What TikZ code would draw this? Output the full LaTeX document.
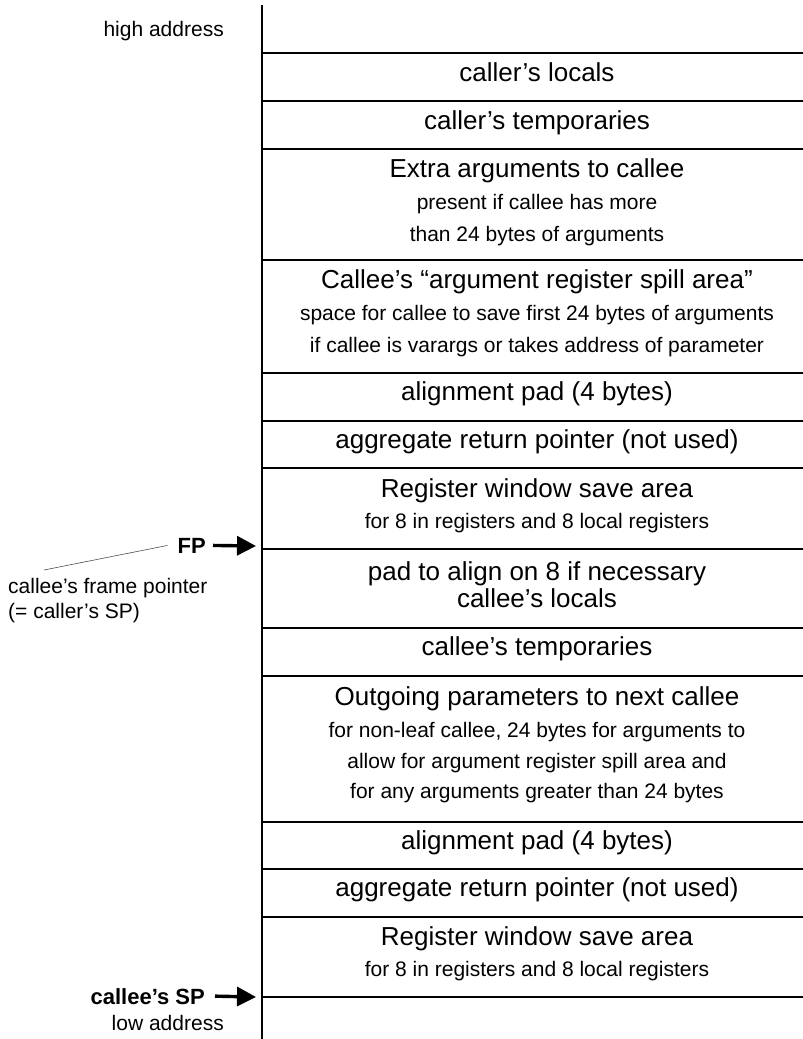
\documentclass[tikz,border=0pt]{standalone}
\usepackage{fontspec}
\setmainfont{Liberation Sans}
\usetikzlibrary{arrows.meta}
\tikzset{
  frame/.style={line width=2.8pt},
  title/.style={anchor=base,inner sep=0pt,font=\fontsize{26}{31}\selectfont},
  note/.style={anchor=base,inner sep=0pt,font=\fontsize{21}{25}\selectfont},
  side/.style={anchor=base east,inner sep=0pt,font=\fontsize{21}{25}\selectfont},
  sidenote/.style={anchor=base west,inner sep=0pt,font=\fontsize{21}{25}\selectfont},
  ptrlabel/.style={anchor=base east,inner sep=0pt,font=\fontsize{22}{26}\selectfont\bfseries},
  ptr/.style={line width=3.4pt,-{Triangle[length=19pt,width=19pt]}},
  lead/.style={line width=0.6pt,black!70},
}
\begin{document}
\begin{tikzpicture}[x=1pt,y=-1pt]
\useasboundingbox (0,0) rectangle (803,1039);
% the stack
\draw[frame] (262,5) -- (262,1039);
\foreach \y in {53,101,149,260,373,421,468,549,628,676,822,869,917,997}
  \draw[frame] (262,\y) -- (803,\y);
% caller's frame
\node[title] (clocals) at (537,81) {caller’s locals};
\node[title] (ctemps) at (537,129) {caller’s temporaries};
\node[title] (extra) at (537,177) {Extra arguments to callee};
\node[note] (extraa) at (537,209) {present if callee has more};
\node[note] (extrab) at (537,241) {than 24 bytes of arguments};
\node[title] (spill) at (537,288) {Callee’s “argument register spill area”};
\node[note] (spilla) at (537,320) {space for callee to save first 24 bytes of arguments};
\node[note] (spillb) at (537,352) {if callee is varargs or takes address of parameter};
\node[title] (pada) at (537,400) {alignment pad (4 bytes)};
\node[title] (aggra) at (537,448) {aggregate return pointer (not used)};
\node[title] (rwina) at (537,497) {Register window save area};
\node[note] (rwinan) at (537,528) {for 8 in registers and 8 local registers};
% callee's frame
\node[title] (alignpad) at (537,580) {pad to align on 8 if necessary};
\node[title] (llocals) at (537,607) {callee’s locals};
\node[title] (ltemps) at (537,655) {callee’s temporaries};
\node[title] (outgo) at (537,705) {Outgoing parameters to next callee};
\node[note] (outgoa) at (537,737) {for non-leaf callee, 24 bytes for arguments to};
\node[note] (outgob) at (537,768) {allow for argument register spill area and};
\node[note] (outgoc) at (537,798) {for any arguments greater than 24 bytes};
\node[title] (padb) at (537,849) {alignment pad (4 bytes)};
\node[title] (aggrb) at (537,896) {aggregate return pointer (not used)};
\node[title] (rwinb) at (537,945) {Register window save area};
\node[note] (rwinbn) at (537,976) {for 8 in registers and 8 local registers};
% labels on the left
\node[side] (high) at (224,36) {high address};
\node[ptrlabel] (fp) at (206,553) {FP};
\node[sidenote] (fpnote) at (8,593) {callee’s frame pointer};
\node[sidenote] (fpnoteb) at (8,618) {(= caller’s SP)};
\node[ptrlabel] (sp) at (205,1004) {callee’s SP};
\node[side] (low) at (224,1030) {low address};
\coordinate (fpline) at (256,546);
\coordinate (spline) at (256,997);
\coordinate (leadend) at (44,570);
\draw[ptr] ([xshift=7pt]fp.east) -- (fpline);
\draw[ptr] ([xshift=10pt]sp.east) -- (spline);
\draw[lead] ([xshift=-10pt]fp.west) -- (leadend);
\end{tikzpicture}
\end{document}
